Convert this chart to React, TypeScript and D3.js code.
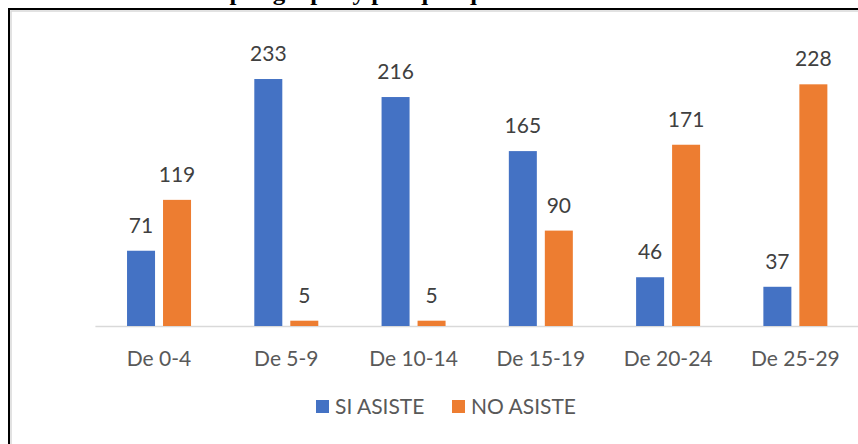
import React from "react";
import * as d3 from "d3";

const categories = ["De 0-4", "De 5-9", "De 10-14", "De 15-19", "De 20-24", "De 25-29"];
const series = ["SI ASISTE", "NO ASISTE"];
const siAsiste = [71, 233, 216, 165, 46, 37];
const noAsiste = [119, 5, 5, 90, 171, 228];
const colors = ["#4472C4", "#ED7D31"];
const titleText = "por grupos y por quinquenales de edad";

export default function App() {
  const width = 858;
  const height = 444;
  const font = "Lato, 'Open Sans', sans-serif";

  const xScale = d3.scaleBand<string>().domain(categories).range([95.4, 859]).padding(0);
  const groupW = 64;
  const xSub = d3.scaleBand<string>().domain(series).range([0, groupW]).paddingInner(0.222);
  const yScale = d3.scaleLinear().domain([0, 250]).range([326, 61]);

  const values = [siAsiste, noAsiste];

  const bars = categories.flatMap((cat, i) =>
    series.map((s, j) => {
      const v = values[j][i];
      const x = (xScale(cat) ?? 0) + (xScale.bandwidth() - groupW) / 2 + (xSub(s) ?? 0);
      const y = yScale(v);
      return (
        <g key={`${cat}-${s}`}>
          <rect x={x} y={y} width={xSub.bandwidth()} height={yScale(0) - y} fill={colors[j]} />
          <text
            x={x + xSub.bandwidth() / 2}
            y={y - 18}
            textAnchor="middle"
            fontSize={21}
            fill="#404040"
            fontFamily={font}
          >
            {v}
          </text>
        </g>
      );
    })
  );

  const xLabels = categories.map((cat) => (
    <text
      key={cat}
      x={(xScale(cat) ?? 0) + xScale.bandwidth() / 2}
      y={366}
      textAnchor="middle"
      fontSize={21}
      fill="#595959"
      fontFamily={font}
    >
      {cat}
    </text>
  ));

  const legendX = [316, 452];

  return (
    <svg
      width={width}
      height={height}
      style={{ position: "absolute", left: 0, top: 0, background: "#fff" }}
    >
      <rect x={0} y={0} width={width} height={height} fill="#fff" />
      {/* title is cut off at the top in the source image */}
      <text
        x={437}
        y={-0.5}
        textAnchor="middle"
        fontSize={24}
        fontWeight="bold"
        fontFamily="'Liberation Serif', 'Times New Roman', serif"
        textLength={415}
        lengthAdjust="spacingAndGlyphs"
        fill="#000"
      >
        {titleText}
      </text>
      <rect x={11} y={11} width={width} height={height} fill="none" stroke="#d9d9d9" strokeWidth={1.5} />
      <rect x={9} y={9} width={width} height={height} fill="none" stroke="#000" strokeWidth={2} />
      <line x1={95.4} x2={859} y1={yScale(0) + 0.5} y2={yScale(0) + 0.5} stroke="#d9d9d9" strokeWidth={1.5} />
      {bars}
      {xLabels}
      {series.map((s, j) => (
        <g key={s}>
          <rect x={legendX[j]} y={400} width={13} height={13} fill={colors[j]} />
          <text x={legendX[j] + 19} y={414} fontSize={21} fill="#595959" fontFamily={font}>
            {s}
          </text>
        </g>
      ))}
    </svg>
  );
}
